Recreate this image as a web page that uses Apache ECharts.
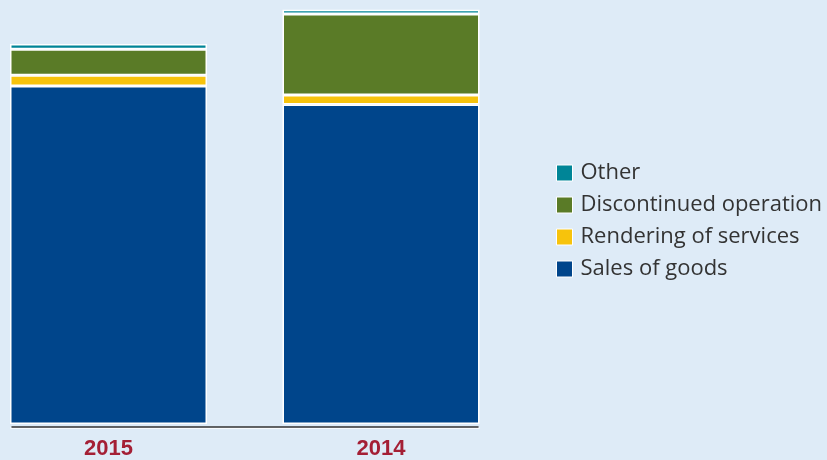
<!DOCTYPE html>
<html style="height: 100%">
  <head>
    <meta charset="utf-8" />
  </head>
  <body style="height: 100%; margin: 0; background: #deebf7">
    <div id="container" style="width: 827px; height: 460px"></div>

    <script
      type="text/javascript"
      src="https://cdn.jsdelivr.net/npm/echarts@6/dist/echarts.min.js"
    ></script>

    <script type="text/javascript">
      var years = ["2015", "2014"];
      var salesOfGoods = [33.85, 31.98];
      var renderingOfServices = [1.07, 0.97];
      var discontinuedOperation = [2.6, 8.1];
      var other = [0.53, 0.43];
      var legendOrder = [
        "Other",
        "Discontinued operation",
        "Rendering of services",
        "Sales of goods",
      ];

      var dom = document.getElementById("container");
      var myChart = echarts.init(dom);

      function barSeries(name, data, color) {
        return {
          name: name,
          type: "bar",
          stack: "total",
          barWidth: 197,
          clip: false,
          data: data,
          itemStyle: {
            color: color,
            borderColor: "#fff",
            borderWidth: 1.5,
          },
        };
      }

      // thin axis lines drawn on their own grids so they span both bars
      function lineAxis(grid, color, width) {
        return {
          type: "value",
          gridIndex: grid,
          z: 5,
          axisLine: { show: true, lineStyle: { color: color, width: width } },
          axisTick: { show: false },
          axisLabel: { show: false },
          splitLine: { show: false },
        };
      }

      option = {
        backgroundColor: "#deebf7",
        animation: false,
        legend: {
          data: legendOrder,
          orient: "vertical",
          left: 551,
          top: 157,
          itemWidth: 16,
          itemHeight: 16,
          itemGap: 10,
          icon: "rect",
          itemStyle: { borderColor: "#fff", borderWidth: 1 },
          textStyle: {
            color: "#333",
            fontSize: 22,
            fontFamily: "Open Sans",
            padding: [0, 0, 0, 3],
          },
        },
        grid: [
          { left: 108.5, width: 272.5, top: 4.5, bottom: 32.5 },
          { left: 11, width: 468, top: 100, bottom: 32 },
          { left: 12, width: 466, top: 100, bottom: 33.3 },
        ],
        xAxis: [
          {
            type: "category",
            gridIndex: 0,
            data: years,
            boundaryGap: false,
            axisLine: { show: false },
            axisTick: { show: false },
            axisLabel: {
              margin: 14,
              color: "#a41f35",
              fontSize: 22,
              fontWeight: "bold",
              fontFamily: "Liberation Sans",
            },
          },
          lineAxis(1, "#fff", 1.5),
          lineAxis(2, "#333", 1.5),
        ],
        yAxis: [
          { type: "value", gridIndex: 0, min: 0, max: 42, show: false },
          { type: "value", gridIndex: 1, show: false },
          { type: "value", gridIndex: 2, show: false },
        ],
        series: [
          barSeries("Sales of goods", salesOfGoods, "#00458b"),
          barSeries("Rendering of services", renderingOfServices, "#f7c30c"),
          barSeries("Discontinued operation", discontinuedOperation, "#5a7b27"),
          barSeries("Other", other, "#008597"),
        ],
      };

      option && myChart.setOption(option);
    </script>
  </body>
</html>
